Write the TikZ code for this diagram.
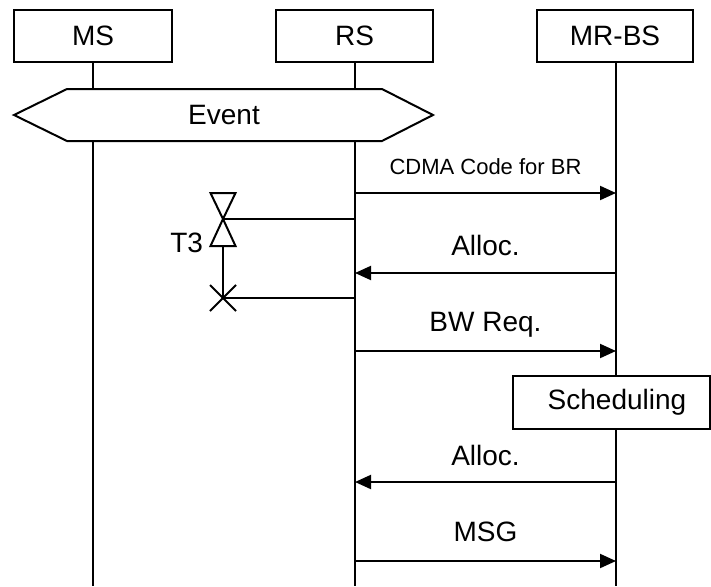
\documentclass[tikz,border=0pt]{standalone}
\usepackage{fontspec}
\setmainfont{Liberation Sans}
\usetikzlibrary{arrows.meta}
\begin{document}
\begin{tikzpicture}[x=1pt,y=-1pt,
  line width=2pt,
  entity/.style={draw, fill=white, minimum height=52pt, inner sep=0pt, font=\fontsize{28}{32}\selectfont},
  lbl/.style={inner sep=0pt, font=\fontsize{28}{32}\selectfont},
  smalllbl/.style={inner sep=0pt, font=\fontsize{22}{26}\selectfont},
  msg/.style={-{Triangle[length=16pt,width=14pt]}},
  life/.style={line width=2pt}]
\useasboundingbox (0,0) rectangle (711,586);
% entities
\node[entity, minimum width=158pt] (ms) at (93,36) {MS};
\node[entity, minimum width=157pt] (rs) at (354.5,36) {RS};
\node[entity, minimum width=156pt] (bs) at (615,36) {MR-BS};
% lifeline ends
\coordinate (msend) at (93,586);
\coordinate (rsend) at (355,586);
\coordinate (bsend) at (616,586);
\draw[life] (ms.south -| msend) -- (msend);
\draw[life] (rs.south -| rsend) -- (rsend);
\draw[life] (bs.south -| bsend) -- (bsend);
% event
\draw[fill=white] (14,115) -- (67,89) -- (382,89) -- (433,115) -- (382,141) -- (67,141) -- cycle;
\node[lbl] (event) at (224,115) {Event};
% message anchor points
\foreach \n/\y in {1/193,2/273,3/351,5/482,6/561}{
  \coordinate (r\n) at (355,\y);
  \coordinate (b\n) at (616,\y);
}
\draw[msg] (r1) -- (b1);
\node[smalllbl] (l1) at (485.5,167) {CDMA Code for BR};
\draw[msg] (b2) -- (r2);
\node[lbl] (l2) at (485.5,245) {Alloc.};
\draw[msg] (r3) -- (b3);
\node[lbl] (l3) at (485.5,325) {BW Req.};
\node[draw, fill=white, minimum width=197pt, minimum height=53pt, inner sep=0pt, font=\fontsize{28}{32}\selectfont] (sched) at (611,402.5) {\hspace*{12pt}Scheduling};
\draw[msg] (b5) -- (r5);
\node[lbl] (l5) at (485.5,455) {Alloc.};
\draw[msg] (r6) -- (b6);
\node[lbl] (l6) at (485.5,532) {MSG};
% timer T3
\coordinate (tstart) at (223,219);
\coordinate (tbase) at (223,246);
\coordinate (tend) at (223,298);
\coordinate (rt1) at (355,219);
\coordinate (rt2) at (355,298);
\draw (210.5,193) -- (235.5,193) -- (tstart) -- cycle;
\draw (tstart) -- (210.5,246) -- (235.5,246) -- cycle;
\draw (rt1) -- (tstart);
\draw (tbase) -- (tend);
\draw (rt2) -- (tend);
\draw (210,285) -- (236,311);
\draw (210,311) -- (236,285);
\node[lbl, anchor=east] (t3) at (204,243) {T3};
\end{tikzpicture}
\end{document}
